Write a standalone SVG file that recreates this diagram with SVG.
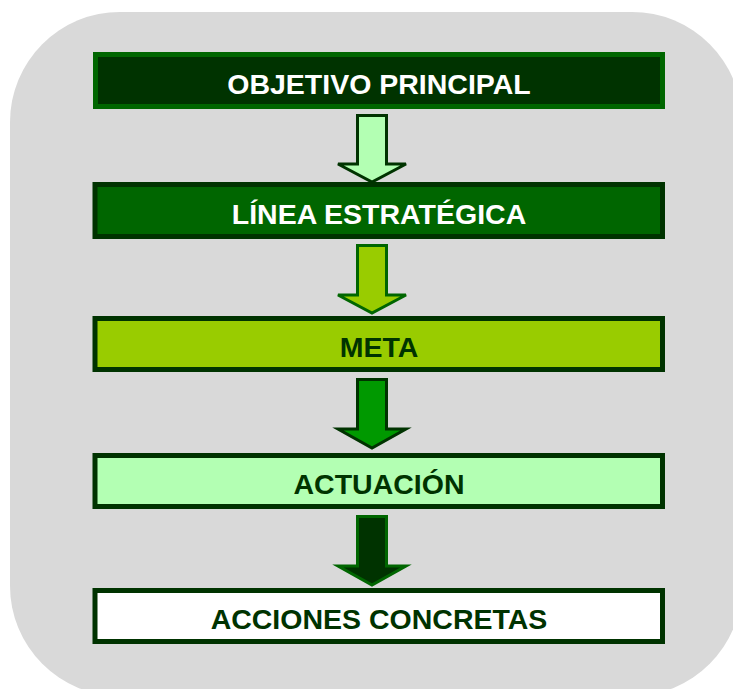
<svg xmlns="http://www.w3.org/2000/svg" width="733" height="689" viewBox="0 0 733 689">
<style>
.box{stroke-width:5}
.lbl{font-family:"Liberation Sans",Arial,sans-serif;font-weight:bold;font-size:28.5px;text-anchor:middle}
.arr{stroke-width:3;stroke-linejoin:miter}
</style>
<rect x="10" y="12" width="732" height="684" rx="110" ry="110" fill="#d9d9d9"/>
<g id="connectors">
<path class="arr" d="M357.5 115.5 H386.5 V164 H406 L372 182 L338 164 H357.5 Z" fill="#b3ffb3" stroke="#003300"/>
<path class="arr" d="M357.5 245.5 H386.5 V295 H406 L372 313 L338 295 H357.5 Z" fill="#99cc00" stroke="#006600"/>
<path class="arr" d="M357.5 379.5 H386.5 V429 H406 L372 448 L338 429 H357.5 Z" fill="#009900" stroke="#003300"/>
<path class="arr" d="M357.5 516.5 H386.5 V566 H406 L372 585 L338 566 H357.5 Z" fill="#003300" stroke="#006600"/>
</g>
<g id="node1">
<rect class="box" x="95.5" y="54.5" width="567" height="52" fill="#003300" stroke="#006600"/>
<text class="lbl" x="379" y="93.5" fill="#ffffff">OBJETIVO PRINCIPAL</text>
</g>
<g id="node2">
<rect class="box" x="95" y="184.5" width="567.5" height="52" fill="#006600" stroke="#003300"/>
<text class="lbl" x="379" y="223.5" fill="#ffffff">LÍNEA ESTRATÉGICA</text>
</g>
<g id="node3">
<rect class="box" x="95" y="318.5" width="567.5" height="51" fill="#99cc00" stroke="#003300"/>
<text class="lbl" x="379" y="356.5" fill="#003300">META</text>
</g>
<g id="node4">
<rect class="box" x="95" y="455.5" width="567.5" height="51" fill="#b3ffb3" stroke="#003300"/>
<text class="lbl" x="379" y="493.5" fill="#003300">ACTUACIÓN</text>
</g>
<g id="node5">
<rect class="box" x="95" y="590.5" width="567.5" height="51" fill="#ffffff" stroke="#003300"/>
<text class="lbl" x="379" y="628.5" fill="#003300">ACCIONES CONCRETAS</text>
</g>
</svg>
